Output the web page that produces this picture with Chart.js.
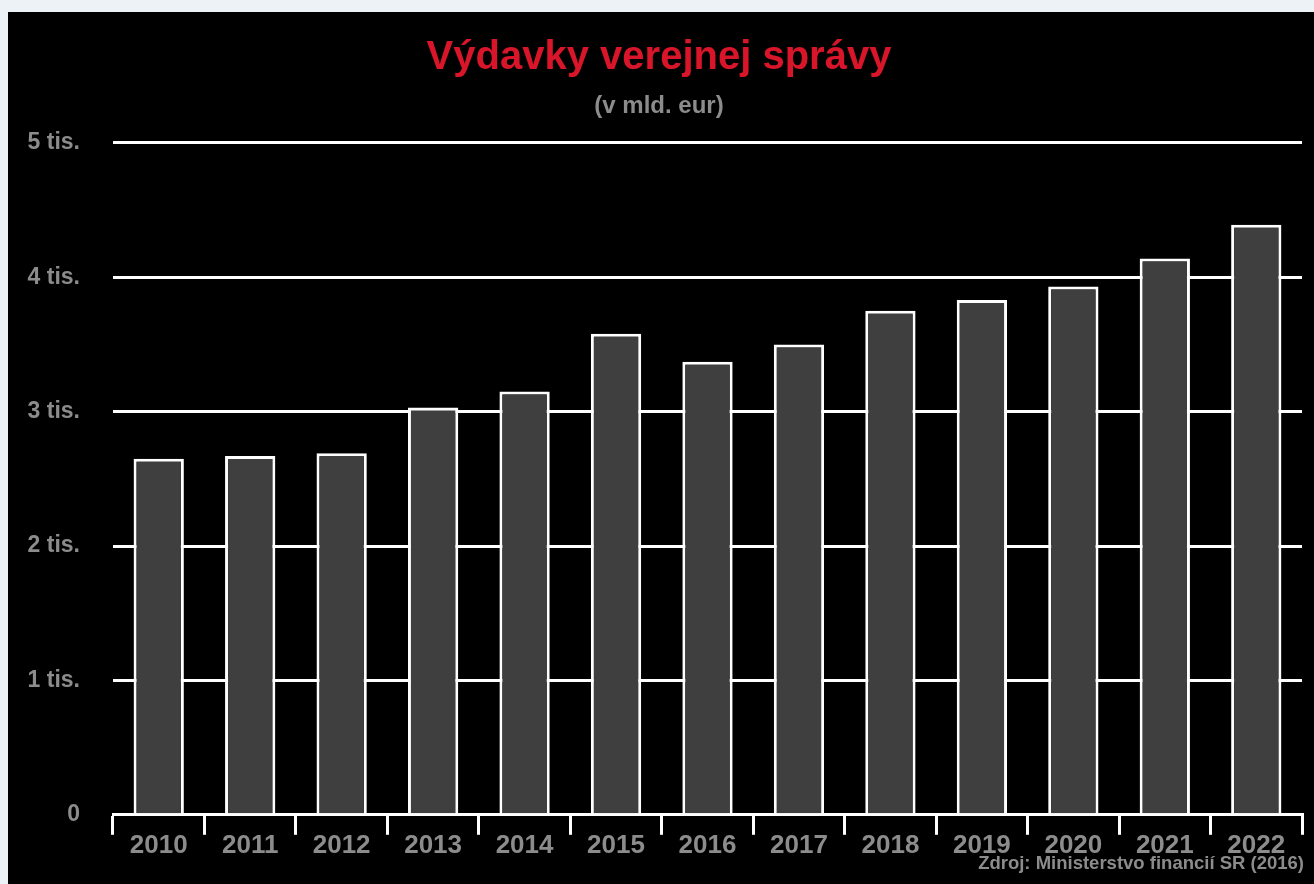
<!DOCTYPE html>
<html lang="sk">
<head>
<meta charset="utf-8">
<title>Výdavky verejnej správy</title>
<script src="https://cdn.jsdelivr.net/npm/chart.js@4"></script>
<style>
  html, body {
    margin: 0;
    padding: 0;
    background: #edf2f7;
  }
  #box {
    position: absolute;
    left: 8px;
    top: 12px;
    width: 1306px;
    height: 872px;
    background: #000;
  }
  #source {
    position: absolute;
    right: 10px;
    top: 840px;
    color: #8c8c8c;
    font: bold 18.5px "Liberation Sans", Arial, sans-serif;
    white-space: nowrap;
  }
</style>
</head>
<body>
<div id="box">
  <canvas id="myChart"></canvas>
  <div id="source">Zdroj: Ministerstvo financií SR (2016)</div>
</div>
<script>
'use strict';

// data

const years = ['2010', '2011', '2012', '2013', '2014', '2015', '2016',
  '2017', '2018', '2019', '2020', '2021', '2022'];
const spending = [2.65, 2.67, 2.69, 3.03, 3.15, 3.58, 3.37,
  3.50, 3.75, 3.83, 3.93, 4.14, 4.39];
const yTickLabels = ['0', '1 tis.', '2 tis.', '3 tis.', '4 tis.', '5 tis.'];

const fontFamily = '"Liberation Sans", Arial, sans-serif';
const gray = '#8c8c8c';

const ctx = document.getElementById('myChart').getContext('2d');

const myChart = new Chart(ctx, {
  type: 'bar',
  data: {
    labels: years,
    datasets: [{
      label: 'Výdavky',
      data: spending,
      backgroundColor: '#3f3f3f',
      borderColor: '#ffffff',
      borderWidth: 3,
      barPercentage: 0.55,
      categoryPercentage: 1,
    }],
  },
  options: {
    responsive: true,
    maintainAspectRatio: false,
    animation: false,
    layout: {
      padding: { left: 8, right: 12, bottom: 28 },
    },
    plugins: {
      legend: { display: false },
      tooltip: { enabled: false },
      title: {
        display: true,
        text: 'Výdavky verejnej správy',
        color: '#d9152a',
        font: { family: fontFamily, size: 40, weight: 'bold' },
        padding: { top: 22, bottom: 6 },
      },
      subtitle: {
        display: true,
        text: '(v mld. eur)',
        color: gray,
        font: { family: fontFamily, size: 24, weight: 'bold' },
        padding: { top: 4, bottom: 22 },
      },
    },
    scales: {
      x: {
        grid: {
          display: true,
          drawOnChartArea: false,
          drawTicks: true,
          tickLength: 20,
          color: '#ffffff',
          lineWidth: 3,
        },
        border: { display: true, color: '#ffffff', width: 3 },
        ticks: {
          color: gray,
          padding: -5,
          maxRotation: 0,
          font: { family: fontFamily, size: 26, weight: 'bold' },
        },
      },
      y: {
        min: 0,
        max: 5,
        afterFit: function (scale) {
          scale.width = 97;
        },
        grid: {
          color: '#ffffff',
          lineWidth: 3,
          drawTicks: false,
        },
        border: { display: false },
        ticks: {
          stepSize: 1,
          padding: 33,
          color: gray,
          font: { family: fontFamily, size: 23, weight: 'bold' },
          callback: function (value) {
            return yTickLabels[value];
          },
        },
      },
    },
  },
});
</script>
</body>
</html>
